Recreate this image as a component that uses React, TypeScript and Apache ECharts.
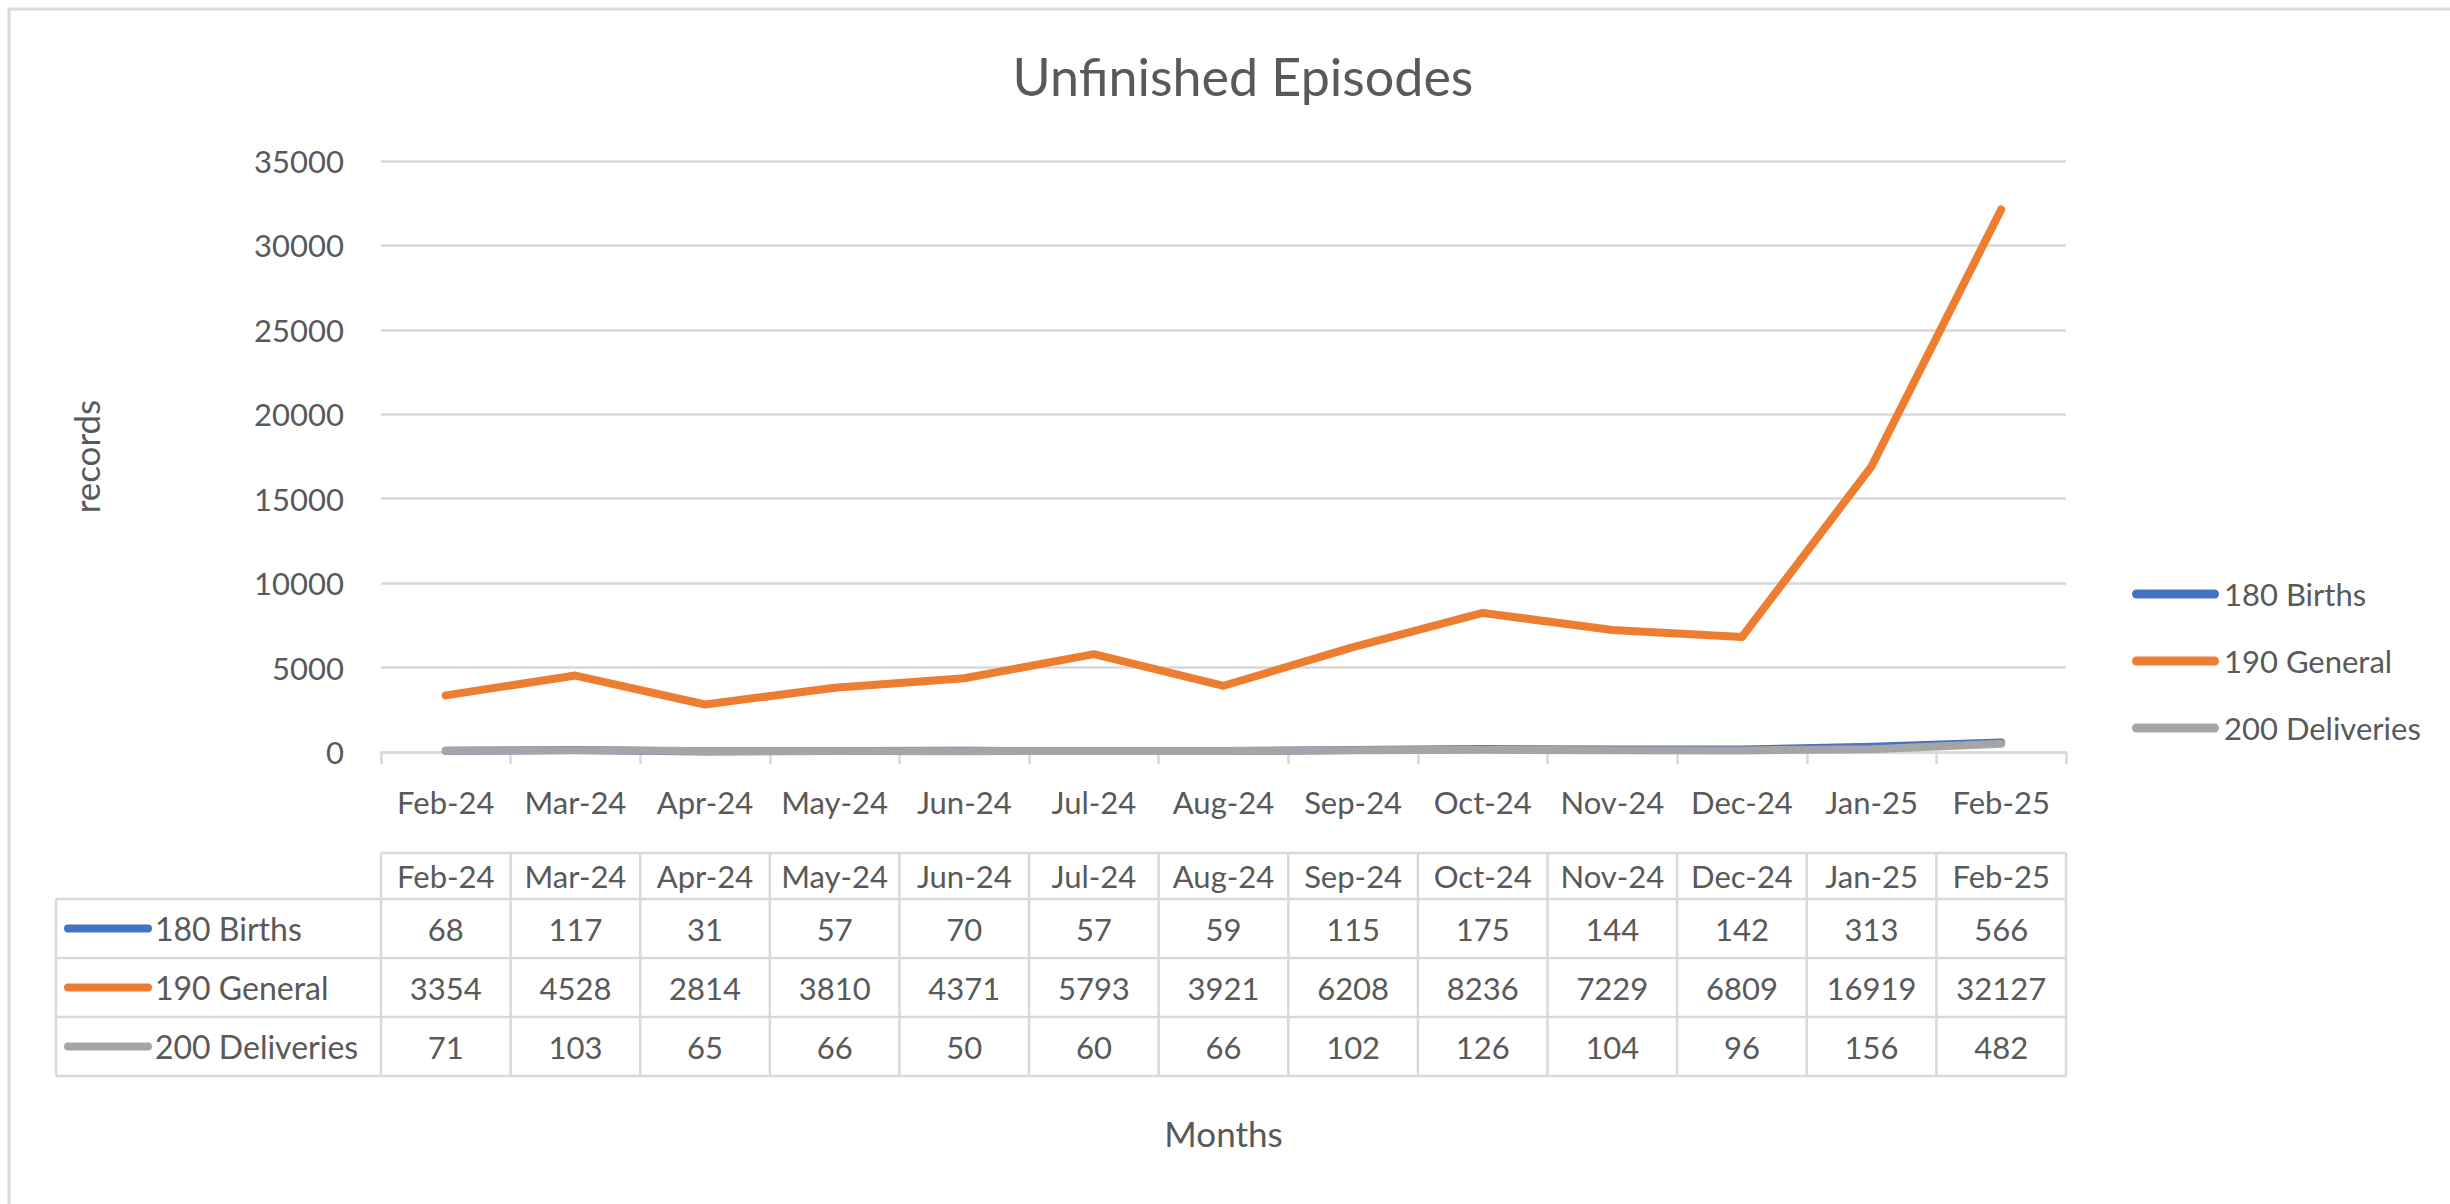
import React, { useEffect, useRef } from "react";
import * as echarts from "echarts";

// ---- Data ----
const months = ["Feb-24", "Mar-24", "Apr-24", "May-24", "Jun-24", "Jul-24", "Aug-24", "Sep-24", "Oct-24", "Nov-24", "Dec-24", "Jan-25", "Feb-25"];
const births = [68, 117, 31, 57, 70, 57, 59, 115, 175, 144, 142, 313, 566];
const general = [3354, 4528, 2814, 3810, 4371, 5793, 3921, 6208, 8236, 7229, 6809, 16919, 32127];
const deliveries = [71, 103, 65, 66, 50, 60, 66, 102, 126, 104, 96, 156, 482];
const seriesNames = ["180 Births", "190 General", "200 Deliveries"];
const seriesColors = ["#4472C4", "#ED7D31", "#A5A5A5"];
const yMin = 0;
const yMax = 35000;
const yInterval = 5000;
const chartTitle = "Unfinished Episodes";
const yTitle = "records";
const xTitle = "Months";

// ---- Layout / style ----
const W = 2450;
const H = 1204;
const GRID_L = 381;
const GRID_R = 2066;
const GRID_T = 161;
const GRID_B = 752;
const TEXT = "#595959";
const GRIDC = "#D9D9D9";
const FONT = "Lato";

const TABLE_L = 56;
const HEAD_T = 853;
const ROW_T = [899, 958, 1017, 1076];

export default function App() {
  const ref = useRef<HTMLDivElement>(null);

  useEffect(() => {
    if (!ref.current) return;
    const chart = echarts.init(ref.current, undefined, { renderer: "svg" });
    const seriesData = [births, general, deliveries];
    const n = months.length;
    const band = (GRID_R - GRID_L) / n;

    const graphics: any[] = [];
    // outer border (extends beyond view)
    graphics.push({
      type: "rect",
      shape: { x: 9, y: 9, width: 3000, height: 3000 },
      style: { fill: "none", stroke: GRIDC, lineWidth: 3 },
      silent: true,
    });
    // title
    graphics.push({
      type: "text",
      x: 1243,
      y: 76,
      style: {
        text: chartTitle,
        font: `52px ${FONT}`,
        fill: TEXT,
        textAlign: "center",
        textVerticalAlign: "middle",
      },
    });
    // x axis title
    graphics.push({
      type: "text",
      x: (GRID_L + GRID_R) / 2,
      y: 1133,
      style: {
        text: xTitle,
        font: `35px ${FONT}`,
        fill: TEXT,
        textAlign: "center",
        textVerticalAlign: "middle",
      },
    });

    // ---- data table ----
    const tableR = GRID_R;
    const hline = (x1: number, x2: number, y: number) =>
      graphics.push({
        type: "line",
        shape: { x1, y1: y, x2, y2: y },
        style: { stroke: GRIDC, lineWidth: 2.5 },
        silent: true,
      });
    const vline = (x: number, y1: number, y2: number) =>
      graphics.push({
        type: "line",
        shape: { x1: x, y1, x2: x, y2 },
        style: { stroke: GRIDC, lineWidth: 2.5 },
        silent: true,
      });
    hline(GRID_L, tableR, HEAD_T);
    ROW_T.forEach((y) => hline(TABLE_L, tableR, y));
    vline(TABLE_L, ROW_T[0], ROW_T[3]);
    for (let k = 0; k <= n; k++) vline(GRID_L + band * k, HEAD_T, ROW_T[3]);

    months.forEach((m, i) => {
      graphics.push({
        type: "text",
        x: GRID_L + band * (i + 0.5),
        y: (HEAD_T + ROW_T[0]) / 2,
        style: { text: m, font: `31px ${FONT}`, fill: TEXT, textAlign: "center", textVerticalAlign: "middle" },
      });
    });
    seriesData.forEach((arr, r) => {
      const cy = (ROW_T[r] + ROW_T[r + 1]) / 2;
      graphics.push({
        type: "line",
        shape: { x1: 68, y1: cy, x2: 148, y2: cy },
        style: { stroke: seriesColors[r], lineWidth: 8, lineCap: "round" },
      });
      graphics.push({
        type: "text",
        x: 155,
        y: cy,
        style: { text: seriesNames[r], font: `32px ${FONT}`, fill: TEXT, textAlign: "left", textVerticalAlign: "middle" },
      });
      arr.forEach((v, i) => {
        graphics.push({
          type: "text",
          x: GRID_L + band * (i + 0.5),
          y: cy,
          style: { text: String(v), font: `31px ${FONT}`, fill: TEXT, textAlign: "center", textVerticalAlign: "middle" },
        });
      });
    });

    chart.setOption({
      animation: false,
      backgroundColor: "#ffffff",
      textStyle: { fontFamily: FONT, color: TEXT },
      grid: { left: GRID_L, top: GRID_T, width: GRID_R - GRID_L, height: GRID_B - GRID_T, containLabel: false },
      legend: {
        orient: "vertical",
        left: 2127,
        top: 571,
        itemWidth: 87,
        itemHeight: 9,
        itemGap: 31,
        itemTextGap: 5,
        icon: "path://M4.5,0 L82.5,0 A4.5,4.5 0 0 1 82.5,9 L4.5,9 A4.5,4.5 0 0 1 4.5,0 Z",
        textStyle: { fontSize: 31, lineHeight: 36, color: TEXT, fontFamily: FONT },
        data: seriesNames,
      },
      xAxis: {
        type: "category",
        data: months,
        boundaryGap: true,
        axisLine: { lineStyle: { color: GRIDC, width: 2.5 } },
        axisTick: { show: true, length: 12, lineStyle: { color: GRIDC, width: 2.5 } },
        axisLabel: { color: TEXT, fontSize: 31, fontFamily: FONT, margin: 34, interval: 0 },
        splitLine: { show: false },
      },
      yAxis: {
        type: "value",
        min: yMin,
        max: yMax,
        interval: yInterval,
        name: yTitle,
        nameLocation: "middle",
        nameGap: 278,
        nameRotate: 90,
        nameTextStyle: { fontSize: 35, color: TEXT, fontFamily: FONT },
        axisLine: { show: false },
        axisTick: { show: false },
        axisLabel: { color: TEXT, fontSize: 31, fontFamily: FONT, margin: 37, formatter: (v: number) => String(v) },
        splitLine: { lineStyle: { color: GRIDC, width: 2.5 } },
      },
      series: seriesData.map((d, i) => ({
        name: seriesNames[i],
        type: "line",
        data: d,
        symbol: "none",
        color: seriesColors[i],
        lineStyle: { width: 8, color: seriesColors[i], cap: "round", join: "round" },
        z: 2 + i,
      })),
      graphic: graphics,
    });

    return () => chart.dispose();
  }, []);

  return (
    <div
      ref={ref}
      style={{ position: "fixed", left: 0, top: 0, width: W, height: H, background: "#fff" }}
    />
  );
}
